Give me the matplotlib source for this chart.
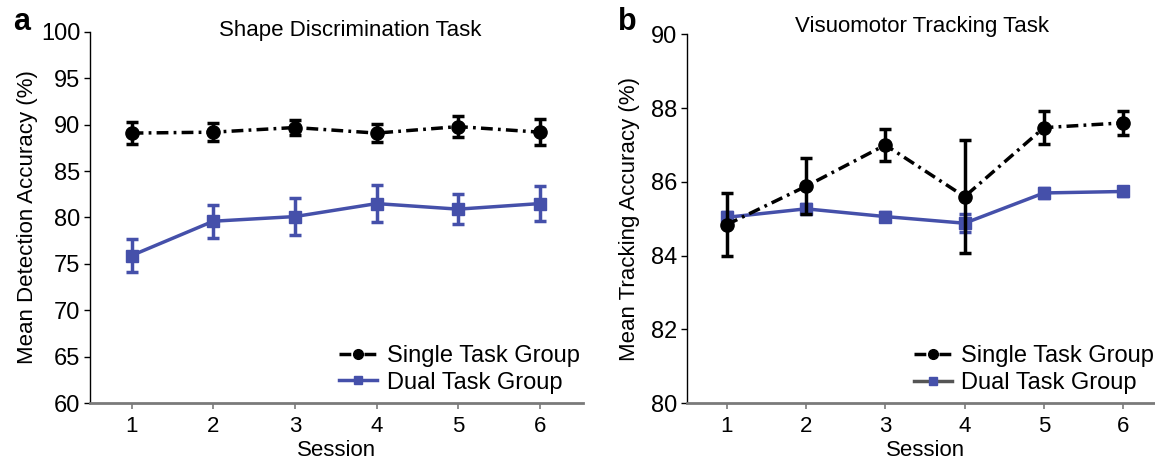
import numpy as np
import matplotlib
matplotlib.use("Agg")
import matplotlib.pyplot as plt
from matplotlib.lines import Line2D

plt.rcParams['font.family'] = ['Liberation Sans', 'DejaVu Sans']

# ---- data ----
sessions = [1, 2, 3, 4, 5, 6]

# panel a: shape discrimination
shape_single = [89.1, 89.2, 89.7, 89.1, 89.8, 89.2]
shape_single_err = [1.2, 1.0, 0.8, 1.0, 1.15, 1.4]
shape_dual = [75.9, 79.6, 80.1, 81.5, 80.9, 81.5]
shape_dual_err = [1.75, 1.8, 2.0, 2.0, 1.6, 1.9]

# panel b: visuomotor tracking
track_single = [84.84, 85.88, 87.0, 85.6, 87.47, 87.6]
track_single_err = [0.85, 0.76, 0.44, 1.53, 0.45, 0.33]
track_dual = [85.04, 85.27, 85.06, 84.88, 85.70, 85.74]
track_dual_err = [0.14, 0.12, 0.12, 0.25, 0.13, 0.13]

BLUE = '#4550AA'
DASHDOT = (0, (3.4, 1.5, 0.8, 1.5))
FS = 16


def style_axes(ax):
    for s in ['top', 'right']:
        ax.spines[s].set_visible(False)
    ax.spines['left'].set_color('black')
    ax.spines['left'].set_linewidth(1.0)
    ax.spines['bottom'].set_color('#7a7a7a')
    ax.spines['bottom'].set_linewidth(2.0)
    ax.tick_params(axis='x', colors='#7a7a7a', labelcolor='black', length=4, width=1.2,
                   labelsize=FS, pad=5)
    ax.tick_params(axis='y', colors='black', length=4, width=1.0, labelsize=FS + 1, pad=3)
    ax.set_xticks(sessions)


def draw(ax, single, single_err, dual, dual_err):
    ax.errorbar(sessions, dual, yerr=dual_err, color=BLUE, lw=2.5, marker='s', ms=8.5,
                capsize=4, elinewidth=2.5, capthick=2.5, zorder=2)
    ax.errorbar(sessions, single, yerr=single_err, color='black', lw=2.5, ls=DASHDOT,
                marker='o', ms=9.5, capsize=4, elinewidth=2.5, capthick=2.5, zorder=3)


def add_legend(ax, dual_line_color, anchor_x):
    handles = [
        Line2D([], [], color='black', lw=2.5, ls=DASHDOT, marker='o', ms=7),
        Line2D([], [], color=dual_line_color, lw=2.5, marker='s', ms=6,
               markerfacecolor=BLUE, markeredgecolor=BLUE),
    ]
    ax.legend(handles, ['Single Task Group', 'Dual Task Group'], loc='lower right',
              bbox_to_anchor=(anchor_x, 0.0), frameon=False, fontsize=FS + 1,
              handlelength=1.6, handletextpad=0.4, labelspacing=0.2, borderaxespad=0.0)


fig = plt.figure(figsize=(11.55, 4.61), dpi=100)
ax1 = fig.add_axes([0.0779, 0.1258, 0.4269, 0.8048])
ax2 = fig.add_axes([0.5945, 0.1252, 0.4055, 0.8004])

# panel a
draw(ax1, shape_single, shape_single_err, shape_dual, shape_dual_err)
style_axes(ax1)
ax1.set_xlim(0.49, 6.53)
ax1.set_ylim(60, 100)
ax1.set_yticks(np.arange(60, 101, 5))
ax1.set_xlabel('Session', fontsize=FS)
ax1.set_ylabel('Mean Detection Accuracy (%)', fontsize=FS)
ax1.xaxis.set_label_coords(0.5, -0.1)
ax1.yaxis.set_label_coords(-0.105, 0.5)
ax1.text(0.527, 1.005, 'Shape Discrimination Task', transform=ax1.transAxes,
         ha='center', va='center', fontsize=FS)
add_legend(ax1, BLUE, 1.012)

# panel b
draw(ax2, track_single, track_single_err, track_dual, track_dual_err)
style_axes(ax2)
ax2.set_xlim(0.496, 6.4)
ax2.set_ylim(80, 90)
ax2.set_yticks(np.arange(80, 91, 2))
ax2.set_xlabel('Session', fontsize=FS)
ax2.set_ylabel('Mean Tracking Accuracy (%)', fontsize=FS)
ax2.xaxis.set_label_coords(0.509, -0.1)
ax2.yaxis.set_label_coords(-0.10, 0.5)
ax2.text(0.502, 1.02, 'Visuomotor Tracking Task', transform=ax2.transAxes,
         ha='center', va='center', fontsize=FS)
add_legend(ax2, '#555555', 1.018)

fig.text(22 / 1155, 1 - 22 / 461, 'a', fontsize=22, fontweight='bold', ha='center', va='center')
fig.text(627 / 1155, 1 - 22 / 461, 'b', fontsize=22, fontweight='bold', ha='center', va='center')

fig.savefig('out.png', dpi=100)
